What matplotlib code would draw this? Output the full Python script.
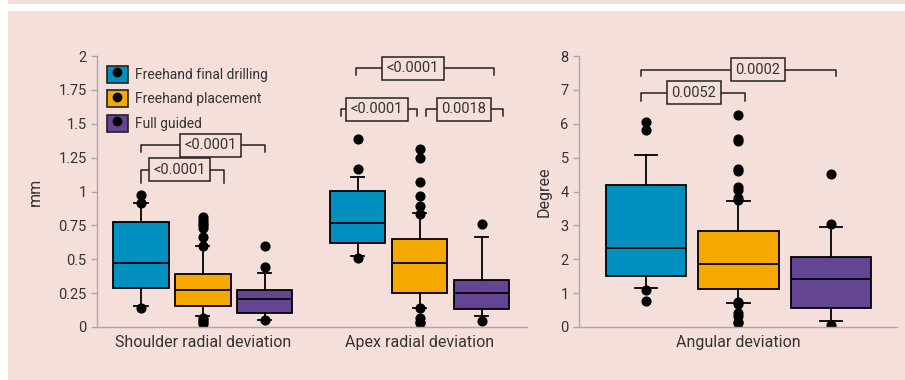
import matplotlib
matplotlib.use("Agg")
import matplotlib.pyplot as plt
from matplotlib.patches import Patch
from matplotlib.lines import Line2D

plt.rcParams['font.family'] = ['Roboto', 'DejaVu Sans']

bg = '#f5dfdb'
colors = ['#0090bf', '#f5a800', '#634593']
groups = ['Freehand final drilling', 'Freehand placement', 'Full guided']

# box stats: whislo, q1, med, q3, whishi, fliers
shoulder = [
    (0.157, 0.287, 0.47, 0.774, 0.913, [0.974, 0.913, 0.142]),
    (0.081, 0.157, 0.273, 0.389, 0.60, [0.60, 0.667, 0.73, 0.75, 0.77, 0.79, 0.81,
                                        0.07, 0.05, 0.035, 0.02]),
    (0.052, 0.10, 0.21, 0.273, 0.40, [0.60, 0.44, 0.05]),
]
apex = [
    (0.524, 0.622, 0.765, 1.006, 1.107, [1.385, 1.164, 0.507]),
    (0.142, 0.249, 0.47, 0.647, 0.841, [1.31, 1.25, 1.07, 0.97, 0.895, 0.834,
                                        0.14, 0.064, 0.04, 0.027]),
    (0.083, 0.135, 0.249, 0.345, 0.664, [0.76, 0.046]),
]
angular = [
    (1.14, 1.5, 2.32, 4.19, 5.09, [6.04, 5.81, 1.1, 0.76]),
    (0.72, 1.11, 1.87, 2.84, 3.71, [6.26, 5.55, 5.5, 4.67, 4.6, 4.13, 4.05, 3.8, 3.75,
                                    0.75, 0.68, 0.42, 0.32, 0.15, 0.12]),
    (0.18, 0.55, 1.42, 2.06, 2.95, [4.52, 3.03, 0.06]),
]

left_pos = [0, 1, 2, 3.5, 4.5, 5.5]
right_pos = [0, 1, 2]
left_ticks = [0, 0.25, 0.5, 0.75, 1, 1.25, 1.5, 1.75, 2]
left_ticklabels = ['0', '0.25', '0.5', '0.75', '1', '1.25', '1.5', '1.75', '2']
right_ticks = [0, 1, 2, 3, 4, 5, 6, 7, 8]

# brackets: x1, x2, y, tip, label, label x
left_brackets = [
    (0.0, 2.0, 1.34, 0.05, '<0.0001', 1.12),
    (0.0, 1.34, 1.16, 0.10, '<0.0001', 0.62),
    (3.47, 5.69, 1.91, 0.05, '<0.0001', 4.39),
    (3.23, 4.45, 1.607, 0.05, '<0.0001', 3.81),
    (4.60, 5.85, 1.607, 0.05, '0.0018', 5.21),
]
right_brackets = [
    (-0.05, 2.05, 7.6, 0.2, '0.0002', 1.21),
    (-0.05, 1.07, 6.92, 0.24, '0.0052', 0.52),
]

txt = '#333333'
spine = '#a8a8a8'


def stats(rows):
    out = []
    for lo, q1, med, q3, hi, fl in rows:
        out.append(dict(whislo=lo, q1=q1, med=med, q3=q3, whishi=hi, fliers=fl))
    return out


def draw_boxes(ax, rows, pos, width, capw):
    b = ax.bxp(stats(rows), positions=pos, widths=width, capwidths=capw,
               patch_artist=True, showfliers=True,
               boxprops=dict(edgecolor='black', linewidth=1.3),
               medianprops=dict(color='black', linewidth=1.3),
               whiskerprops=dict(color='black', linewidth=1.3),
               capprops=dict(color='black', linewidth=1.3),
               flierprops=dict(marker='o', markerfacecolor='black',
                               markeredgecolor='black', markersize=6.3))
    for i, p in enumerate(b['boxes']):
        p.set_facecolor(colors[i % 3])
    return b


def draw_brackets(ax, items):
    for x1, x2, y, tip, lab, lx in items:
        ax.plot([x1, x1, x2, x2], [y - tip, y, y, y - tip], color='#222222', lw=1.1,
                clip_on=False)
        ax.text(lx, y, lab, ha='center', va='center', fontsize=10.5, color=txt,
                bbox=dict(boxstyle='square,pad=0.3', facecolor=bg,
                          edgecolor='#222222', linewidth=1.1))


def style(ax):
    ax.set_facecolor(bg)
    for s in ['top', 'right']:
        ax.spines[s].set_visible(False)
    for s in ['left', 'bottom']:
        ax.spines[s].set_color(spine)
        ax.spines[s].set_linewidth(1.0)
    ax.tick_params(axis='y', colors=spine, labelcolor=txt, labelsize=10.5,
                   length=4, width=1.0)
    ax.tick_params(axis='x', length=0, labelsize=11.5, labelcolor=txt, pad=6)


fig = plt.figure(figsize=(9.05, 3.8), dpi=100, facecolor=bg)
fig.add_artist(plt.Rectangle((0, 0.9711), 1, 0.0184, transform=fig.transFigure,
                             facecolor='white', edgecolor='none'))
fig.add_artist(plt.Rectangle((0, 0), 0.0088, 1, transform=fig.transFigure,
                             facecolor='white', edgecolor='none'))

ax1 = fig.add_axes([0.1072, 0.1395, 0.4751, 0.7131])
ax2 = fig.add_axes([0.6398, 0.1395, 0.3514, 0.7131])

draw_boxes(ax1, shoulder + apex, left_pos, 0.89, 0.21)
draw_boxes(ax2, angular, right_pos, 0.865, 0.24)

style(ax1)
style(ax2)

ax1.set_xlim(-0.71, 6.23)
ax1.set_ylim(0, 2)
ax1.set_yticks(left_ticks)
ax1.set_yticklabels(left_ticklabels)
ax1.set_xticks([1, 4.5])
ax1.set_xticklabels(['Shoulder radial deviation', 'Apex radial deviation'])
ax1.set_ylabel('mm', fontsize=11.5, color=txt, labelpad=11)

ax2.set_xlim(-0.72, 2.71)
ax2.set_ylim(0, 8)
ax2.set_yticks(right_ticks)
ax2.set_xticks([1])
ax2.set_xticklabels(['Angular deviation'])
ax2.set_ylabel('Degree', fontsize=11.5, color=txt, labelpad=6)

draw_brackets(ax1, left_brackets)
draw_brackets(ax2, right_brackets)

handles = [(Patch(facecolor=c, edgecolor='#222222', linewidth=1.2),
            Line2D([], [], marker='o', color='black', linestyle='none', markersize=6))
           for c in colors]
ax1.legend(handles, groups, loc='upper left', bbox_to_anchor=(0.0, 1.0),
           frameon=False, fontsize=10, handlelength=1.5, handleheight=1.5,
           labelspacing=0.55, handletextpad=0.5, borderaxespad=0.3,
           labelcolor=txt)

fig.savefig('out.png', dpi=100, facecolor=bg)
